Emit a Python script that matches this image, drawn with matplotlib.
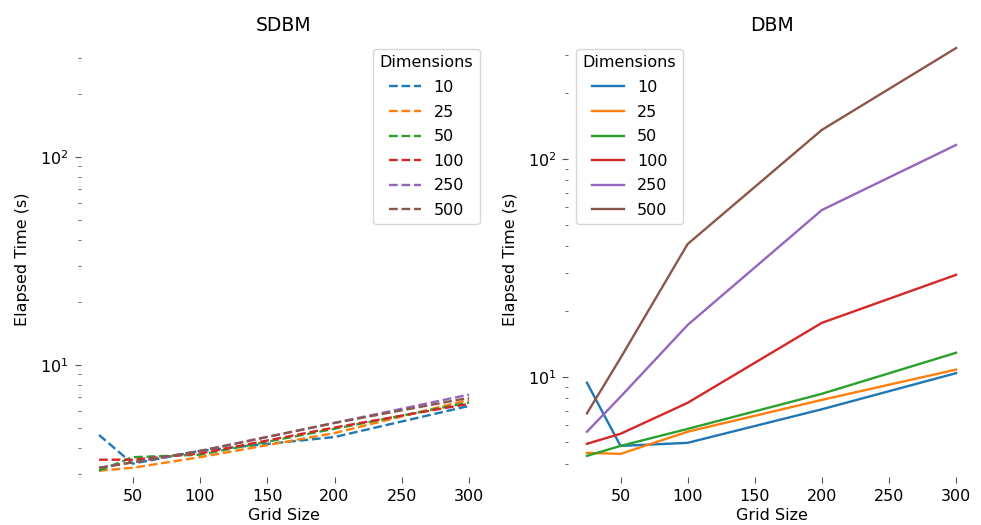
import matplotlib
matplotlib.use("Agg")
import matplotlib.pyplot as plt

# grid sizes on the x axis
grid_sizes = [25, 50, 100, 200, 300]
dimensions = [10, 25, 50, 100, 250, 500]

# SDBM elapsed times (s), one list per dimension
sdbm_10 = [4.6, 3.35, 3.86, 4.5, 6.35]
sdbm_25 = [3.1, 3.2, 3.6, 4.7, 6.8]
sdbm_50 = [3.1, 3.6, 3.7, 4.93, 6.6]
sdbm_100 = [3.5, 3.5, 3.75, 5.0, 6.5]
sdbm_250 = [3.2, 3.4, 3.85, 5.26, 7.2]
sdbm_500 = [3.2, 3.4, 3.86, 5.26, 6.95]

# DBM elapsed times (s)
dbm_10 = [9.4, 4.82, 4.98, 7.1, 10.4]
dbm_25 = [4.48, 4.43, 5.6, 7.84, 10.8]
dbm_50 = [4.34, 4.82, 5.77, 8.36, 12.9]
dbm_100 = [4.93, 5.48, 7.6, 17.7, 29.4]
dbm_250 = [5.6, 8.1, 17.3, 58.3, 116]
dbm_500 = [6.8, 12.2, 40.7, 136, 323]

sdbm = [sdbm_10, sdbm_25, sdbm_50, sdbm_100, sdbm_250, sdbm_500]
dbm = [dbm_10, dbm_25, dbm_50, dbm_100, dbm_250, dbm_500]

# the reference looks like a slightly enlarged default figure
plt.rcParams['font.size'] = 11.5
plt.rcParams['axes.titlesize'] = 13.5
plt.rcParams['axes.titlepad'] = 7
plt.rcParams['lines.linewidth'] = 1.7
plt.rcParams['xtick.major.size'] = 4
plt.rcParams['ytick.major.size'] = 4
plt.rcParams['ytick.minor.size'] = 2.3
plt.rcParams['xtick.major.pad'] = 4.5
plt.rcParams['ytick.major.pad'] = 5
plt.rcParams['legend.labelspacing'] = 0.6


def style_axes(ax):
    for s in ax.spines.values():
        s.set_visible(False)
    ax.tick_params(which='both', colors='#555555', labelcolor='black')
    ax.set_xlabel('Grid Size', labelpad=3)
    ax.set_ylabel('Elapsed Time (s)', labelpad=7)


fig = plt.figure(figsize=(9.81, 5.25), dpi=100)
ax1 = fig.add_axes([0.0821, 0.0914, 0.4149, 0.8305])
ax2 = fig.add_axes([0.5795, 0.0914, 0.4139, 0.8305])

for dim, vals in zip(dimensions, sdbm):
    ax1.plot(grid_sizes, vals, '--', label=str(dim))
ax1.set_yscale('log')
ax1.set_ylim(2.89, 361)
ax1.set_title('SDBM')
ax1.legend(title='Dimensions', loc='upper right')
style_axes(ax1)

for dim, vals in zip(dimensions, dbm):
    ax2.plot(grid_sizes, vals, '-', label=str(dim))
ax2.set_yscale('log')
ax2.set_ylim(3.47, 348)
ax2.set_title('DBM')
ax2.legend(title='Dimensions', loc='upper left')
style_axes(ax2)

fig.savefig('out.png', dpi=100)
